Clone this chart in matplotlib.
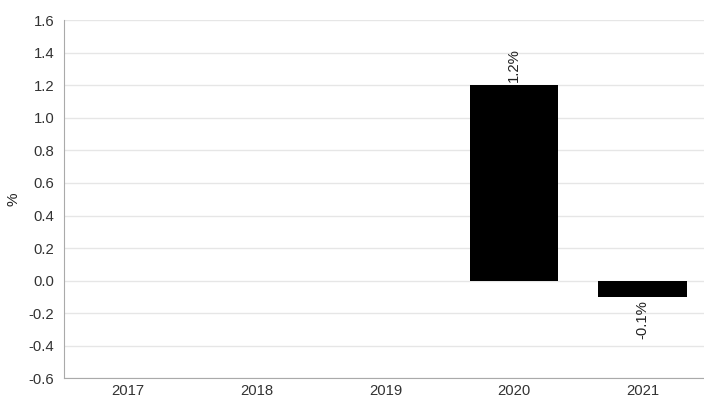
import matplotlib.pyplot as plt
import numpy as np

plt.rcParams['font.family'] = ['Liberation Sans', 'DejaVu Sans']

years = ["2017", "2018", "2019", "2020", "2021"]
values = [np.nan, np.nan, np.nan, 1.2, -0.1]
labels = [None, None, None, "1.2%", "-0.1%"]

fig = plt.figure(figsize=(7.04, 3.97), dpi=100)
ax = fig.add_axes([0.0909, 0.0466, 0.9134, 0.903])

x = np.arange(len(years))
ax.bar(x, values, width=0.69, color="black", zorder=3)

for xi, v, lab in zip(x, values, labels):
    if lab is None:
        continue
    if v >= 0:
        ax.annotate(lab, (xi, v), xytext=(0, 2), textcoords="offset points",
                    rotation=90, ha="center", va="bottom", fontsize=10.7, color="#222222")
    else:
        ax.annotate(lab, (xi, v), xytext=(0, -2), textcoords="offset points",
                    rotation=90, ha="center", va="top", fontsize=10.7, color="#222222")

ticks = np.arange(-0.6, 1.61, 0.2)
ax.set_xlim(-0.5, 4.5)
ax.set_ylim(-0.6, 1.6)
ax.set_yticks(ticks)
ax.set_yticklabels([f"{t:.1f}" for t in ticks])
ax.set_xticks(x)
ax.set_xticklabels(years)
ax.tick_params(axis="y", length=0, labelsize=10.7, labelcolor="#333333", pad=7)
ax.tick_params(axis="x", length=0, labelsize=10.7, labelcolor="#333333", pad=4)
ax.grid(axis="y", color="#e6e6e6", linewidth=1, zorder=0)
ax.set_axisbelow(True)
for side in ("top", "right"):
    ax.spines[side].set_visible(False)
for side in ("left", "bottom"):
    ax.spines[side].set_color("#aaaaaa")
ax.set_ylabel("%", fontsize=11, color="#222222", labelpad=6)

fig.savefig("out.png", dpi=100)
